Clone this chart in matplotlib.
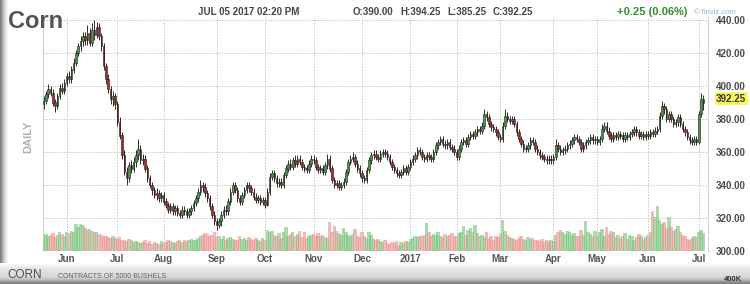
import numpy as np
import pandas as pd
import matplotlib
matplotlib.use('Agg')
import matplotlib.pyplot as plt
from matplotlib.transforms import blended_transform_factory

plt.rcParams['font.family'] = ['Liberation Sans', 'DejaVu Sans']

# ---------------- data (daily OHLC, cents/bu; volume in K contracts) ----------------
O = [389,391,395,398,396,390,388,394,399,397,
     402,406,404,410,414,420,424,427,430,428,
     432,426,434,431,436,430,424,412,404,398,
     392,394,389,378,370,358,348,344,352,350,
     354,358,362,355,356,350,344,340,337,334,
     335,332,334,330,328,325,327,324,326,323,
     322,325,324,322,324,326,329,332,336,340,
     339,335,332,327,322,318,316,318,322,325,
     324,330,336,340,337,332,330,334,337,340,
     338,336,333,331,332,330,331,328,336,345,
     347,344,341,342,340,346,350,353,351,355,
     353,356,354,351,350,349,353,356,355,351,
     349,350,348,352,356,350,343,340,341,339,
     340,342,348,354,356,357,353,350,347,344,
     343,349,355,358,359,357,356,359,360,359,
     357,354,351,349,347,346,348,350,348,351,
     354,356,358,361,360,357,356,358,357,356,
     360,364,366,368,365,364,366,363,362,360,
     357,362,366,367,365,369,371,370,372,374,
     373,376,383,381,377,375,374,372,369,368,
     376,382,380,379,380,377,372,368,365,362,
     362,364,367,366,362,360,358,357,356,355,
     356,355,357,364,362,360,361,362,364,365,
     367,369,368,366,362,364,366,367,369,367,
     368,366,368,374,376,373,370,368,370,369,
     371,370,368,370,369,371,372,374,372,370,
     371,369,371,370,372,371,373,374,382,388,
     386,380,383,380,377,378,381,377,374,372,
     369,367,366,368,366,383,390]
C = [391,395,398,396,390,388,394,399,397,402,
     406,404,410,414,420,424,427,430,428,432,
     426,434,431,436,430,424,412,404,398,392,
     394,389,378,370,358,348,344,352,350,354,
     358,362,355,356,350,344,340,337,334,335,
     332,334,330,328,325,327,324,326,323,322,
     325,324,322,324,326,329,332,336,340,339,
     335,332,327,322,318,316,318,322,325,324,
     330,336,340,337,332,330,334,337,340,338,
     336,333,331,332,330,331,328,336,345,347,
     344,341,342,340,346,350,353,351,355,353,
     356,354,351,350,349,353,356,355,351,349,
     350,348,352,356,350,343,340,341,339,340,
     342,348,354,356,357,353,350,347,344,343,
     349,355,358,359,357,356,359,360,359,357,
     354,351,349,347,346,348,350,348,351,354,
     356,358,361,360,357,356,358,357,356,360,
     364,366,368,365,364,366,363,362,360,357,
     362,366,367,365,369,371,370,372,374,373,
     376,383,381,377,375,374,372,369,368,376,
     382,380,379,380,377,372,368,365,362,362,
     364,367,366,362,360,358,357,356,355,356,
     355,357,364,362,360,361,362,364,365,367,
     369,368,366,362,364,366,367,369,367,368,
     366,368,374,376,373,370,368,370,369,371,
     370,368,370,369,371,372,374,372,370,371,
     369,371,370,372,371,373,374,382,388,386,
     380,383,380,377,378,381,377,374,372,369,
     367,366,368,366,383,392,392.25]
H = [394,397,401,400,398,392,396,401,402,404,
     408,409,412,417,422,426,430,433,433,437,
     435,438,440,439,438,432,426,414,407,400,
     397,396,391,381,372,361,351,354,355,357,
     361,368,364,359,358,352,346,342,339,338,
     337,336,336,332,330,329,329,328,328,325,
     327,327,326,326,328,331,334,338,343,342,
     341,337,334,329,324,320,320,324,327,328,
     332,338,342,342,339,334,336,339,342,342,
     340,338,335,334,334,333,333,338,347,349,
     349,346,344,344,348,352,355,356,357,358,
     358,358,356,353,352,355,358,358,357,353,
     352,352,354,359,358,352,345,343,343,342,
     344,350,356,358,360,359,355,352,349,346,
     351,357,360,361,361,359,361,362,362,361,
     359,356,353,351,349,350,352,352,353,356,
     358,360,363,363,362,359,360,360,359,362,
     366,368,370,370,367,368,368,365,364,362,
     364,368,369,369,371,373,373,374,376,376,
     378,386,385,383,379,377,376,374,371,378,
     386,384,382,382,382,379,374,370,367,364,
     366,369,369,368,364,362,360,359,358,358,
     358,359,368,366,364,363,364,366,367,369,
     371,371,370,368,366,368,369,371,371,370,
     370,370,377,378,378,375,372,372,372,373,
     373,372,372,372,373,374,376,376,374,373,
     373,373,373,374,374,375,376,384,391,390,
     388,385,385,382,380,383,383,379,376,374,
     371,369,370,370,385,396,394.25]
L = [386,389,393,394,388,384,386,392,395,395,
     400,402,402,408,412,418,421,424,425,425,
     424,424,428,429,428,421,410,401,396,389,
     388,386,376,368,356,346,340,342,347,348,
     351,355,353,352,348,342,338,334,332,331,
     330,330,328,326,323,323,322,322,321,320,
     320,322,320,320,322,324,327,330,334,336,
     333,330,325,320,316,313,314,315,320,322,
     322,328,334,335,330,328,328,332,335,336,
     334,331,329,329,328,328,326,327,334,343,
     342,339,339,338,338,344,348,349,349,351,
     351,352,349,348,347,347,351,353,349,347,
     347,346,346,350,348,341,338,338,337,337,
     338,340,346,352,354,351,348,345,342,341,
     341,347,353,356,355,354,354,357,357,355,
     352,349,347,345,344,344,346,346,346,349,
     352,354,356,358,355,354,354,355,354,354,
     358,362,364,363,362,362,361,360,358,355,
     355,360,364,363,363,367,368,368,370,371,
     371,374,379,375,373,372,370,367,366,366,
     374,378,377,377,375,370,366,363,360,360,
     360,362,364,360,358,356,355,354,353,353,
     353,353,355,360,358,358,359,360,362,363,
     365,366,364,360,360,362,364,365,365,365,
     364,364,366,372,371,368,366,366,367,367,
     368,366,366,367,367,369,370,370,368,368,
     367,367,368,368,369,369,371,372,380,383,
     378,378,378,375,375,376,375,372,370,367,
     365,364,364,364,365,381,385.25]
V = [190,210,180,200,220,170,200,230,210,190,
     230,220,250,240,330,300,340,320,280,260,
     270,250,230,240,210,200,180,190,170,160,
     180,160,150,170,140,130,120,150,130,110,
     120,110,100,110,130,100,120,90,110,100,
     90,120,100,110,130,120,110,100,120,130,
     110,140,120,130,150,140,130,160,180,200,
     220,210,190,200,230,170,180,150,190,140,
     160,170,150,130,140,180,150,160,140,170,
     150,130,160,140,120,160,140,260,240,250,
     200,180,220,160,240,300,190,210,230,180,
     210,250,170,230,160,190,200,210,180,220,
     190,200,170,160,360,230,310,250,220,200,
     280,240,200,180,210,270,190,170,230,180,
     160,240,200,150,130,150,120,110,130,100,
     90,110,100,120,80,110,100,120,110,150,
     160,180,170,190,180,200,350,230,190,210,
     200,230,190,170,210,180,200,220,180,190,
     220,240,310,200,260,290,240,320,220,180,
     200,170,230,160,180,140,190,170,210,380,
     250,200,170,160,150,130,160,180,150,140,
     170,150,160,130,140,120,150,110,130,120,
     140,120,200,240,260,230,210,250,230,200,
     220,180,190,260,200,370,240,210,180,250,
     200,230,270,190,300,210,250,230,170,200,
     160,190,220,150,200,180,140,170,210,190,
     150,170,200,230,500,420,560,380,330,360,
     280,420,300,250,270,310,240,200,180,150,
     130,160,190,170,230,260,220]

holidays = ['2016-05-30', '2016-07-04', '2016-09-05', '2016-11-24', '2016-12-26',
            '2017-01-02', '2017-01-16', '2017-02-20', '2017-04-14', '2017-05-29']
price_ticks = [300, 320, 340, 360, 380, 400, 420, 440]

# ---------------- layout ----------------
W, HP = 750, 284
fig = plt.figure(figsize=(W / 100, HP / 100), dpi=100)
fig.patch.set_facecolor('white')

def fx(px):
    return px / W

def fy(py):
    return 1 - py / HP

# background decorations (pixel coordinates)
bg = fig.add_axes([0, 0, 1, 1], zorder=0)
lg = np.array([[0.50, 0.58, 0.68, 0.78, 0.86, 0.92, 0.96, 0.99, 1.0]])
bg.imshow(lg, extent=(0, 10, HP, 0), cmap='gray', vmin=0, vmax=1, aspect='auto',
          interpolation='bilinear')
bgv = np.array([1.0, 0.96, 0.92, 0.90, 0.89, 0.88, 0.87, 0.86, 0.84, 0.80,
                0.72, 0.60, 0.50])[:, None]
bg.imshow(bgv, extent=(0, W, HP, 263), cmap='gray', vmin=0, vmax=1, aspect='auto',
          interpolation='bilinear')
bg.set_xlim(0, W)
bg.set_ylim(HP, 0)
bg.axis('off')

# axes geometry
x0p, x1p, ytop, ybot = 43, 708, 16.7, 251
rect = [fx(x0p), fy(ybot), fx(x1p - x0p), (ybot - ytop) / HP]
px_per_day = 2.307
xs0 = 43.6

n = len(C)
dates = pd.bdate_range('2016-05-01', '2017-07-05')
dates = dates[~dates.isin(pd.to_datetime(holidays))]
dates = dates[-n:]
idx = np.arange(n)

O_ = np.array(O, float); C_ = np.array(C, float)
H_ = np.array(H, float); L_ = np.array(L, float); V_ = np.array(V, float)
up = C_ >= O_

# volume axes
vax = fig.add_axes(rect, zorder=2)
vcol = np.where(up, '#74c274', '#e98e8e')
vax.bar(idx, V_, width=1.5, color=vcol, alpha=0.6, linewidth=0)
vax.set_ylim(0, 2900)
vax.axis('off')

# price axes
ax = fig.add_axes(rect, zorder=3)
ax.patch.set_visible(False)
ax.vlines(idx, L_, H_, color='#1e1e1e', linewidth=0.65, zorder=3)
body_b = np.minimum(O_, C_)
body_h = np.maximum(np.abs(C_ - O_), 0.35)
bcol = np.where(up, '#3f9c3f', '#b02424')
ax.bar(idx, body_h, bottom=body_b, width=0.65, color=bcol, edgecolor='#1e1e1e',
       linewidth=0.4, zorder=4)

xl0 = (x0p - xs0) / px_per_day
xl1 = (x1p - xs0) / px_per_day
ax.set_xlim(xl0, xl1)
vax.set_xlim(xl0, xl1)
ax.set_ylim(300, 442)

# month ticks
months = pd.Series(dates).dt.to_period('M')
first = np.where(months.values != np.roll(months.values, 1))[0]
first = [i for i in first if i > 0]
labels = ['2017' if dates[i].month == 1 else dates[i].strftime('%b') for i in first]
ax.set_xticks(first)
ax.set_xticklabels(labels)
ax.set_yticks(price_ticks)
ax.set_yticklabels(['%.2f' % t for t in price_ticks])
ax.yaxis.tick_right()
ax.tick_params(axis='y', length=0, pad=5.8, labelsize=7, labelcolor='#4a4a4a')
ax.tick_params(axis='x', length=0, pad=2.5, labelsize=7, labelcolor='#555555')
for t in ax.get_xticklabels() + ax.get_yticklabels():
    t.set_fontweight('bold')

ax.grid(True, color='#c4c4c4', linestyle=(0, (1.5, 1.5)), linewidth=0.7, zorder=0)
ax.set_axisbelow(True)
for s in ['top', 'bottom']:
    ax.spines[s].set_visible(False)
for s in ['left', 'right']:
    ax.spines[s].set_color('#c4c4c4')
    ax.spines[s].set_linestyle((0, (1.5, 1.5)))
    ax.spines[s].set_linewidth(0.7)

# last-price highlight
tr = blended_transform_factory(ax.transAxes, ax.transData)
ax.text(1 + 8 / (x1p - x0p), C_[-1], '%.2f' % C_[-1], transform=tr, ha='left', va='center',
        fontsize=7, fontweight='bold', color='#333333', zorder=6,
        bbox=dict(boxstyle='square,pad=0.15', facecolor='#fbf75a', edgecolor='none'))

# ---------------- texts ----------------
fig.text(fx(8), fy(28), 'Corn', fontsize=17, fontweight='bold', color='#555555',
         ha='left', va='baseline', zorder=5)
fig.text(fx(28), fy(137), 'DAILY', fontsize=8, fontweight='bold', color='#b0b0b0',
         rotation=90, ha='center', va='center', zorder=5)
fig.text(fx(198), fy(12), 'JUL 05 2017 02:20 PM', fontsize=7, fontweight='bold',
         color='#444444', ha='left', va='center', zorder=5)
hdr = [('O:390.00', 353), ('H:394.25', 400), ('L:385.25', 447), ('C:392.25', 493)]
for s, xp in hdr:
    fig.text(fx(xp), fy(12), s, fontsize=7, fontweight='bold', color='#444444',
             ha='left', va='center', zorder=5)
fig.text(fx(617), fy(12), '+0.25 (0.06%)', fontsize=8, fontweight='bold', color='#2f8f2f',
         ha='left', va='center', zorder=5)
fig.text(fx(694), fy(12), '\u00a9 finviz.com', fontsize=5.5, color='#8fb3d0',
         ha='left', va='center', zorder=5)
fig.text(fx(7), fy(275), 'CORN', fontsize=8.5, color='#505050', ha='left', va='center',
         zorder=5)
fig.text(fx(58), fy(277), 'CONTRACTS OF 5000 BUSHELS', fontsize=5, color='#606060',
         ha='left', va='center', zorder=5)
fig.text(fx(724), fy(279.5), '400K', fontsize=5.5, fontweight='bold', color='#333333',
         ha='left', va='center', zorder=5)

fig.savefig('out.png', dpi=100, facecolor='white')
